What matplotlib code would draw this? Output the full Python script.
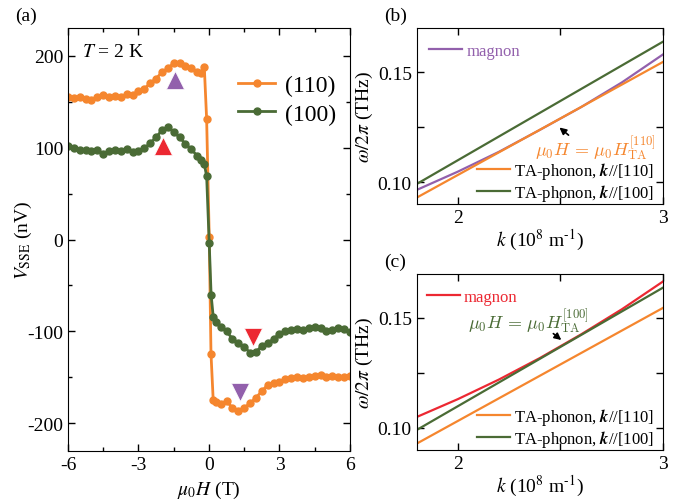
import numpy as np
import matplotlib
matplotlib.use("Agg")
import matplotlib.pyplot as plt
from matplotlib.ticker import MultipleLocator

plt.rcParams['font.family'] = ['Liberation Serif', 'DejaVu Serif']
plt.rcParams['mathtext.fontset'] = 'stix'
plt.rcParams['xtick.direction'] = 'in'
plt.rcParams['ytick.direction'] = 'in'

# Colours
c_orange = '#F5862E'
c_green = '#4A6B35'
c_purple = '#9260AC'
c_red = '#EC2832'

# (a) SSE voltage vs field
h110 = [-6.0, -5.75, -5.5, -5.25, -5.0, -4.75, -4.5, -4.25, -4.0, -3.75, -3.5, -3.25,
        -3.0, -2.75, -2.5, -2.25, -2.0, -1.75, -1.5, -1.25, -1.0, -0.75, -0.5,
        -0.35, -0.2, -0.1, 0.01, 0.085, 0.18, 0.3,
        0.5, 0.75, 1.0, 1.25, 1.5, 1.75, 2.0, 2.25, 2.5, 2.75, 3.0, 3.25,
        3.5, 3.75, 4.0, 4.25, 4.5, 4.75, 5.0, 5.25, 5.5, 5.75, 6.0]
v110 = [155, 154, 155, 153, 152, 155, 157, 155, 156, 155, 158, 157,
        161, 164, 170, 175, 182, 186, 192, 192, 189, 186, 182,
        181, 188, 131, 3, -124, -175, -177,
        -179, -176, -183, -186, -183, -178, -172, -165, -158, -156, -155, -152,
        -151, -150, -151, -149, -148, -147, -149, -148, -150, -149, -148]

h100 = [-6.0, -5.75, -5.5, -5.25, -5.0, -4.75, -4.5, -4.25, -4.0, -3.75, -3.5, -3.25,
        -3.0, -2.75, -2.5, -2.25, -2.0, -1.75, -1.5, -1.25, -1.0, -0.75, -0.5,
        -0.35, -0.2, -0.1, 0.01, 0.09, 0.18, 0.3,
        0.5, 0.75, 1.0, 1.25, 1.5, 1.75, 2.0, 2.25, 2.5, 2.75, 3.0, 3.25,
        3.5, 3.75, 4.0, 4.25, 4.5, 4.75, 5.0, 5.25, 5.5, 5.75, 6.0]
v100 = [102, 100, 97, 97, 96, 97, 93, 96, 97, 96, 98, 95,
        96, 99, 105, 111, 119, 122, 117, 111, 104, 98, 91,
        87, 82, 69, -4, -60, -84, -90,
        -95, -100, -108, -113, -117, -123, -122, -116, -113, -108, -103, -100,
        -98, -97, -98, -96, -95, -96, -99, -98, -96, -97, -101]

# triangle markers (field, voltage)
tri_up_purple = (-1.45, 173)
tri_up_red = (-1.94, 102)
tri_dn_red = (1.89, -106)
tri_dn_purple = (1.32, -166)

# (b), (c) dispersions
k_line = [1.8, 3.0]
ta110 = [0.0929, 0.1546]
ta100 = [0.0991, 0.1638]

k_mag = [1.8, 2.0, 2.2, 2.4, 2.6, 2.8, 3.0]
mag_b = [0.0964, 0.1047, 0.1137, 0.1237, 0.1340, 0.1453, 0.1580]
mag_c = [0.1050, 0.1131, 0.1220, 0.1318, 0.1425, 0.1540, 0.1666]

fig = plt.figure(figsize=(6.95, 5.02), dpi=100)

# ---- panel (a)
ax = fig.add_axes([0.0978, 0.0996, 0.4058, 0.8426])
ax.plot(h110, v110, '-o', color=c_orange, lw=2.0, ms=5, label='(110)')
ax.plot(h100, v100, '-o', color=c_green, lw=2.0, ms=5, label='(100)')
ax.plot(*tri_up_purple, '^', color=c_purple, ms=13, mec='white', mew=0.5)
ax.plot(*tri_up_red, '^', color=c_red, ms=13, mec='white', mew=0.5)
ax.plot(*tri_dn_red, 'v', color=c_red, ms=13, mec='white', mew=0.5)
ax.plot(*tri_dn_purple, 'v', color=c_purple, ms=13, mec='white', mew=0.5)
ax.set_xlim(-6, 6)
ax.set_ylim(-230, 230)
ax.xaxis.set_minor_locator(MultipleLocator(1.5))
ax.yaxis.set_minor_locator(MultipleLocator(50))
ax.set_xticks([-6, -3, 0, 3, 6])
ax.set_xticklabels(['-6', '-3', '0', '3', '6'])
ax.set_yticks([-200, -100, 0, 100, 200])
ax.set_yticklabels(['-200', '-100', '0', '100', '200'])
ax.tick_params(which='both', top=True, right=True, labelsize=14)
ax.tick_params(which='major', length=5, width=1)
ax.tick_params(which='minor', length=3, width=1)
ax.set_xlabel(r'$\mu_0H$ (T)', fontsize=14, labelpad=4)
ax.set_ylabel(r'$V_{\mathrm{SSE}}$ (nV)', fontsize=14)
ax.yaxis.set_label_coords(-0.122, 0.5)
ax.text(0.05, 0.945, r'$T$ = 2 K', transform=ax.transAxes, fontsize=14, va='center')
ax.legend(loc='upper left', bbox_to_anchor=(0.56, 0.918), frameon=False, fontsize=17,
          handlelength=1.6, handletextpad=0.4, labelspacing=0.3, borderpad=0)
fig.text(0.022, 0.968, '(a)', fontsize=14, va='center')


def style_disp(ax):
    ax.set_xlim(1.8, 3.0)
    ax.set_ylim(0.09, 0.17)
    ax.set_xticks([2, 3])
    ax.set_xticklabels(['2', '3'])
    ax.xaxis.set_minor_locator(MultipleLocator(0.5))
    ax.set_yticks([0.10, 0.15])
    ax.set_yticklabels(['0.10', '0.15'])
    ax.yaxis.set_minor_locator(MultipleLocator(0.025))
    ax.tick_params(which='both', top=True, right=True, labelsize=14)
    ax.tick_params(which='major', length=5, width=1)
    ax.tick_params(which='minor', length=5, width=1)
    ax.set_xlabel(r'$k$ (10$^8$ m$^{\text{-}1}$)', fontsize=14, labelpad=1)
    ax.set_ylabel(r'$\omega/2\pi$ (THz)', fontsize=14, labelpad=2)


leg_kw = dict(frameon=False, fontsize=12, handlelength=2.0, handletextpad=0.25,
              labelspacing=0.05, borderpad=0, borderaxespad=0)
phonon_labels = [r'TA-phonon, $\mathbfit{k}$//[110]', r'TA-phonon, $\mathbfit{k}$//[100]']

# ---- panel (b)
axb = fig.add_axes([0.5996, 0.5916, 0.3544, 0.3506])
l1, = axb.plot(k_mag, mag_b, color=c_purple, lw=1.6)
l2, = axb.plot(k_line, ta110, color=c_orange, lw=1.6)
l3, = axb.plot(k_line, ta100, color=c_green, lw=1.6)
style_disp(axb)
lg = axb.legend([l1], ['magnon'], loc='center left', bbox_to_anchor=(0.05, 0.871), **leg_kw)
lg.get_texts()[0].set_color(c_purple)
axb.add_artist(lg)
axb.legend([l2, l3], phonon_labels, loc='lower right', bbox_to_anchor=(0.965, 0.005), **leg_kw)
axb.annotate('', xy=(2.485, 0.1256), xytext=(2.55, 0.1205),
             arrowprops=dict(arrowstyle='-|>', color='black', lw=1.2, mutation_scale=10))
axb.text(2.67, 0.1158, r'$\mu_0H\,=\,\mu_0H_{\mathrm{TA}}^{[110]}$', color=c_orange,
         fontsize=13, ha='center', va='center', math_fontfamily='cm')
fig.text(0.552, 0.968, '(b)', fontsize=14, va='center')

# ---- panel (c)
axc = fig.add_axes([0.5996, 0.1016, 0.3544, 0.3506])
m1, = axc.plot(k_mag, mag_c, color=c_red, lw=1.6)
m2, = axc.plot(k_line, ta110, color=c_orange, lw=1.6)
m3, = axc.plot(k_line, ta100, color=c_green, lw=1.6)
style_disp(axc)
lg = axc.legend([m1], ['magnon'], loc='center left', bbox_to_anchor=(0.04, 0.871), **leg_kw)
lg.get_texts()[0].set_color(c_red)
axc.add_artist(lg)
axc.legend([m2, m3], phonon_labels, loc='lower right', bbox_to_anchor=(0.965, 0.005), **leg_kw)
axc.annotate('', xy=(2.515, 0.1392), xytext=(2.455, 0.1437),
             arrowprops=dict(arrowstyle='-|>', color='black', lw=1.2, mutation_scale=10))
axc.text(2.343, 0.1489, r'$\mu_0H\,=\,\mu_0H_{\mathrm{TA}}^{[100]}$', color=c_green,
         fontsize=13, ha='center', va='center', math_fontfamily='cm')
fig.text(0.552, 0.478, '(c)', fontsize=14, va='center')

fig.savefig('out.png', dpi=100)
